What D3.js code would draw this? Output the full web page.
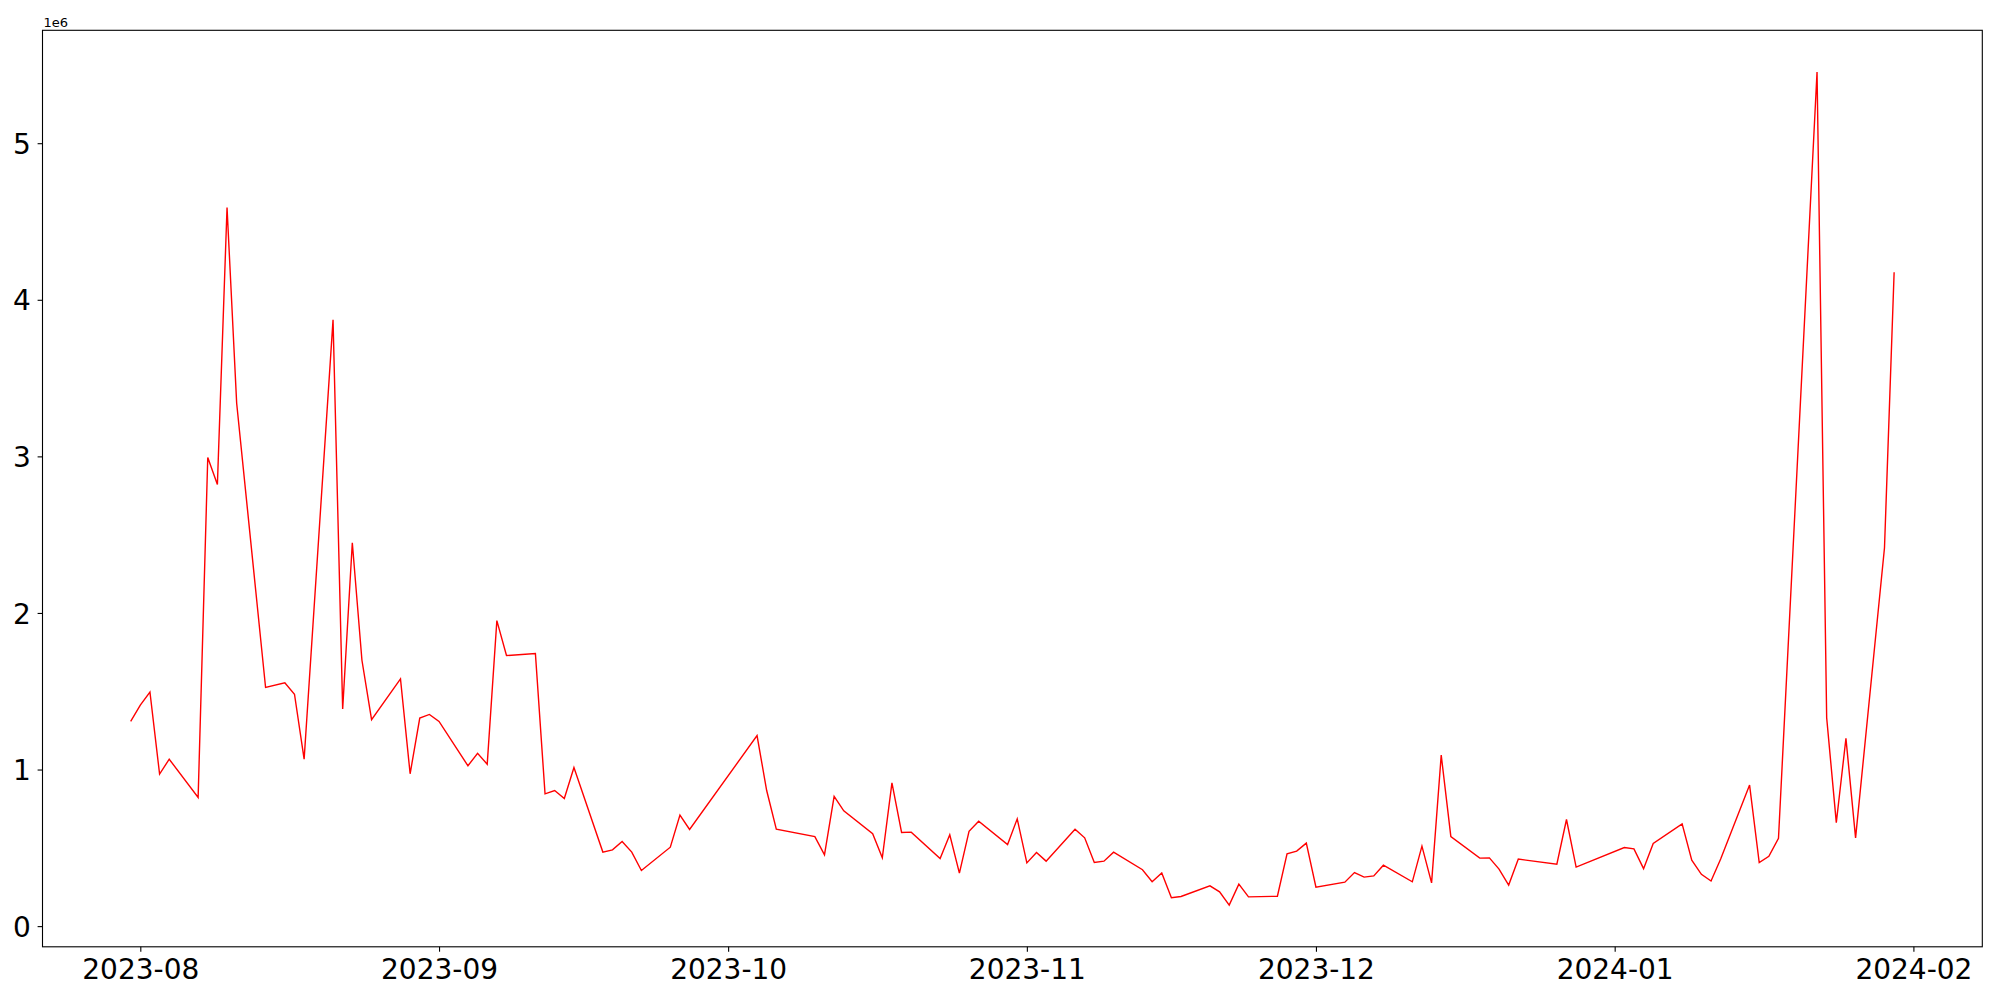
<!DOCTYPE html>
<html>
<head>
<meta charset="utf-8">
<script src="https://cdn.jsdelivr.net/npm/d3@7"></script>
<style>
  html, body { margin: 0; padding: 0; background: #ffffff; }
  svg { display: block; }
  text { font-family: "DejaVu Sans", sans-serif; fill: #000; }
</style>
</head>
<body>
<svg id="chart" width="2000" height="1000"></svg>
<script>
// ---- data ----
const dates = [
  "2023-07-31","2023-08-01","2023-08-02","2023-08-03","2023-08-04",
  "2023-08-07","2023-08-08","2023-08-09","2023-08-10","2023-08-11",
  "2023-08-14","2023-08-16","2023-08-17","2023-08-18",
  "2023-08-21","2023-08-22","2023-08-23","2023-08-24","2023-08-25",
  "2023-08-28","2023-08-29","2023-08-30","2023-08-31","2023-09-01",
  "2023-09-04","2023-09-05","2023-09-06","2023-09-07","2023-09-08",
  "2023-09-11","2023-09-12","2023-09-13","2023-09-14","2023-09-15",
  "2023-09-18","2023-09-19","2023-09-20","2023-09-21","2023-09-22",
  "2023-09-25","2023-09-26","2023-09-27",
  "2023-10-04","2023-10-05","2023-10-06",
  "2023-10-10","2023-10-11","2023-10-12","2023-10-13",
  "2023-10-16","2023-10-17","2023-10-18","2023-10-19","2023-10-20",
  "2023-10-23","2023-10-24","2023-10-25","2023-10-26","2023-10-27",
  "2023-10-30","2023-10-31","2023-11-01","2023-11-02","2023-11-03",
  "2023-11-06","2023-11-07","2023-11-08","2023-11-09","2023-11-10",
  "2023-11-13","2023-11-14","2023-11-15","2023-11-16","2023-11-17",
  "2023-11-20","2023-11-21","2023-11-22","2023-11-23","2023-11-24",
  "2023-11-27","2023-11-28","2023-11-29","2023-11-30","2023-12-01",
  "2023-12-04","2023-12-05","2023-12-06","2023-12-07","2023-12-08",
  "2023-12-11","2023-12-12","2023-12-13","2023-12-14","2023-12-15",
  "2023-12-18","2023-12-19","2023-12-20","2023-12-21","2023-12-22",
  "2023-12-26","2023-12-27","2023-12-28",
  "2024-01-02","2024-01-03","2024-01-04","2024-01-05",
  "2024-01-08","2024-01-09","2024-01-10","2024-01-11","2024-01-12",
  "2024-01-15","2024-01-16","2024-01-17","2024-01-18",
  "2024-01-22","2024-01-23","2024-01-24","2024-01-25","2024-01-26",
  "2024-01-29","2024-01-30"
];
const values = [
  1307000,1412000,1495000,971000,1066000,
  822000,2993000,2821000,4589000,3339000,
  1524000,1554000,1481000,1066000,
  3872000,1387000,2448000,1698000,1319000,
  1579000,973000,1329000,1352000,1307000,
  1024000,1104000,1034000,1951000,1728000,
  1741000,845000,866000,815000,1013000,
  473000,487000,540000,473000,355000,
  504000,709000,617000,
  1217000,866000,619000,
  572000,455000,828000,736000,
  590000,436000,915000,598000,600000,
  432000,583000,338000,606000,670000,
  521000,685000,404000,470000,415000,
  619000,564000,406000,415000,472000,
  360000,283000,340000,181000,189000,
  257000,219000,134000,268000,187000,
  191000,462000,479000,530000,249000,
  281000,342000,313000,321000,389000,
  283000,511000,276000,1092000,572000,
  434000,436000,364000,262000,428000,
  396000,681000,377000,
  502000,493000,367000,528000,
  653000,421000,331000,288000,428000,
  901000,406000,446000,561000,
  5455000,1331000,661000,1199000,564000,
  2416000,4176000
];
const yTickValues = [0, 1000000, 2000000, 3000000, 4000000, 5000000];
const yTickLabels = ["0", "1", "2", "3", "4", "5"];
const yOffsetLabel = "1e6";
const xTickFormat = "%Y-%m";

// ---- layout ----
const W = 2000, H = 1000;
const plot = { left: 42.5, right: 1982.3, top: 30.3, bottom: 946.8 };
const svg = d3.select("#chart");

const parse = d3.utcParse("%Y-%m-%d");
const pts = dates.map((d, i) => ({ t: parse(d), v: values[i] }));

// matplotlib-like 5% margins
const tExt = d3.extent(pts, p => p.t);
const tPad = (tExt[1] - tExt[0]) * 0.05;
const vExt = d3.extent(pts, p => p.v);
const vPad = (vExt[1] - vExt[0]) * 0.05;

const x = d3.scaleUtc()
  .domain([new Date(+tExt[0] - tPad), new Date(+tExt[1] + tPad)])
  .range([plot.left, plot.right]);
const y = d3.scaleLinear()
  .domain([vExt[0] - vPad, vExt[1] + vPad])
  .range([plot.bottom, plot.top]);

// line
const line = d3.line().x(p => x(p.t)).y(p => y(p.v));
svg.append("path")
  .datum(pts)
  .attr("d", line)
  .attr("fill", "none")
  .attr("stroke", "#ff0000")
  .attr("stroke-width", 1.4)
  .attr("stroke-linejoin", "miter");

// frame
svg.append("rect")
  .attr("x", plot.left).attr("y", plot.top)
  .attr("width", plot.right - plot.left)
  .attr("height", plot.bottom - plot.top)
  .attr("fill", "none").attr("stroke", "#000").attr("stroke-width", 1.1);

// x axis
const xAxis = d3.axisBottom(x)
  .ticks(d3.utcMonth.every(1))
  .tickFormat(d3.utcFormat(xTickFormat))
  .tickSize(4.9).tickPadding(5);
const gx = svg.append("g")
  .attr("transform", `translate(0,${plot.bottom})`)
  .call(xAxis);
gx.select(".domain").remove();
gx.selectAll(".tick line").attr("stroke", "#000").attr("stroke-width", 1.1);
gx.selectAll(".tick text")
  .attr("font-family", "DejaVu Sans")
  .attr("font-size", "28px")
  .attr("fill", "#000")
  .attr("dy", null)
  .attr("y", 32.7);

// y axis
const yAxis = d3.axisLeft(y)
  .tickValues(yTickValues)
  .tickFormat((d, i) => yTickLabels[i])
  .tickSize(4.9).tickPadding(5);
const gy = svg.append("g")
  .attr("transform", `translate(${plot.left},0)`)
  .call(yAxis);
gy.select(".domain").remove();
gy.selectAll(".tick line").attr("stroke", "#000").attr("stroke-width", 1.1);
gy.selectAll(".tick text")
  .attr("font-family", "DejaVu Sans")
  .attr("font-size", "28px")
  .attr("fill", "#000")
  .attr("x", -11.6)
  .attr("dy", null)
  .attr("y", 10.2);

// offset text
svg.append("text")
  .attr("x", plot.left + 1)
  .attr("y", 27.3)
  .attr("font-size", "13px")
  .text(yOffsetLabel);
</script>
</body>
</html>
